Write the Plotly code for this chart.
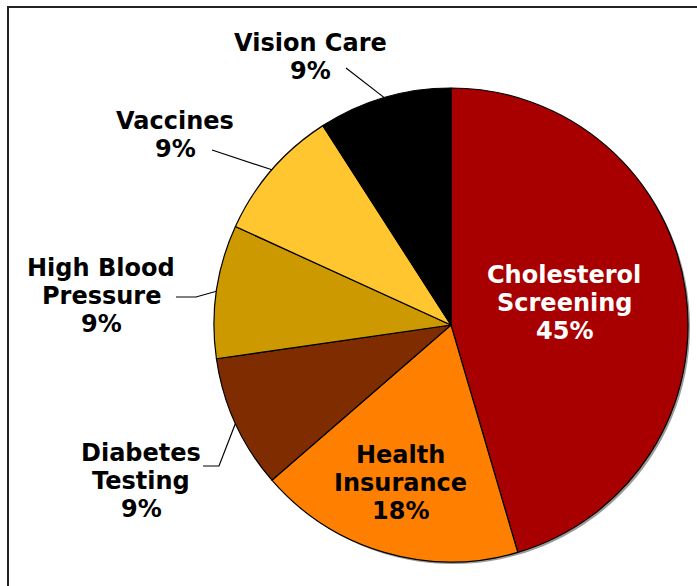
import math
import plotly.graph_objects as go

# ---- data ----
categories = ["Cholesterol Screening", "Health Insurance", "Diabetes Testing",
              "High Blood Pressure", "Vaccines", "Vision Care"]
values = [5, 2, 1, 1, 1, 1]
label_lines = [["Cholesterol", "Screening"], ["Health", "Insurance"], ["Diabetes", "Testing"],
               ["High Blood", "Pressure"], ["Vaccines"], ["Vision Care"]]

# ---- style / layout ----
W, H = 697, 586
colors = ["#A80000", "#FF8000", "#7F2C00", "#CC9900", "#FFC62F", "#000000"]
CX, CY, R = 451, 325, 237  # pie centre / radius in pixels
FONT = "DejaVu Sans"
FS = 24
LINE_H = 28

# label block centres (pixels), text colour; leader-line elbows (label side)
label_pos = [(564, 303, "white"), (400, 483, "black"), (141, 481, "black"),
             (101, 296, "black"), (175, 135, "black"), (310, 57, "black")]
leader_start = [None, None, [(203, 466), (219, 466)], [(176, 297), (196, 297)],
                [(212, 150)], [(346, 68)]]


def px(x, y):
    return x / W, 1 - y / H


total = sum(values)
pcts = [round(100 * v / total) for v in values]

fig = go.Figure()
fig.add_trace(go.Pie(
    labels=categories, values=values, sort=False, direction="clockwise", rotation=0,
    marker=dict(colors=colors, line=dict(color="black", width=1.2)),
    textinfo="none", hoverinfo="label+percent", showlegend=False,
    domain=dict(x=[(CX - R) / W, (CX + R) / W], y=[(H - CY - R) / H, (H - CY + R) / H]),
))

annotations = []
shapes = []
# soft drop shadow behind the pie
sx0, sy1 = px(CX - R + 2, CY - R + 2)
sx1, sy0 = px(CX + R + 2, CY + R + 2)
shapes.append(dict(type="circle", xref="paper", yref="paper", x0=sx0, x1=sx1, y0=sy0, y1=sy1,
                   fillcolor="#9a9a9a", line=dict(width=0), layer="below"))

cum = 0
for i, v in enumerate(values):
    mid = (cum + v / 2) / total * 2 * math.pi
    cum += v
    lx, ly, col = label_pos[i]
    lines = label_lines[i] + [f"{pcts[i]}%"]
    n = len(lines)
    for k, t in enumerate(lines):
        yk = ly + (k - (n - 1) / 2) * LINE_H
        ax, ay = px(lx, yk)
        annotations.append(dict(x=ax, y=ay, xref="paper", yref="paper", text=t,
                                showarrow=False, xanchor="center", yanchor="middle",
                                font=dict(family=FONT, size=FS, color=col, weight="bold")))
    if leader_start[i]:
        ex = CX + R * math.sin(mid)
        ey = CY - R * math.cos(mid)
        pts = leader_start[i] + [(ex, ey)]
        path = "M " + " L ".join(f"{px(x, y)[0]},{px(x, y)[1]}" for x, y in pts)
        shapes.append(dict(type="path", xref="paper", yref="paper", path=path,
                           line=dict(color="black", width=1.2)))

# outer frame (extends beyond the right/bottom edges)
fx0, fy0 = px(8, 7)
shapes.append(dict(type="rect", xref="paper", yref="paper", x0=fx0, y0=-0.05, x1=1.05, y1=fy0,
                   line=dict(color="#222222", width=2), layer="below"))

fig.update_layout(width=W, height=H, margin=dict(l=0, r=0, t=0, b=0),
                  paper_bgcolor="white", plot_bgcolor="white",
                  annotations=annotations, shapes=shapes)
fig.write_html("out.html", config={"displayModeBar": False},
               post_script="document.body.style.margin='0';document.body.style.overflow='hidden';")
